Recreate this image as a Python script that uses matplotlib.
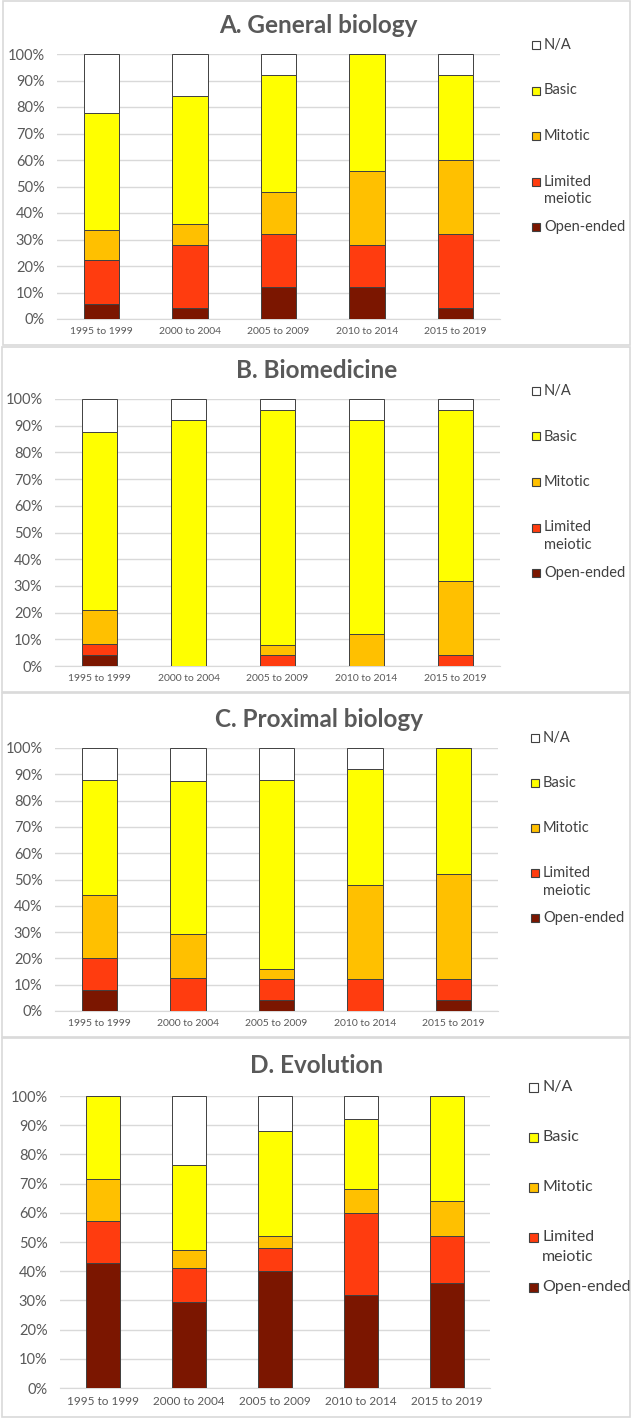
import matplotlib
matplotlib.use("Agg")
import matplotlib.pyplot as plt
from matplotlib.patches import Rectangle
from matplotlib.ticker import PercentFormatter

plt.rcParams["font.family"] = ["Lato", "DejaVu Sans"]

categories = ["1995 to 1999", "2000 to 2004", "2005 to 2009", "2010 to 2014", "2015 to 2019"]
series_names = ["Open-ended", "Limited\nmeiotic", "Mitotic", "Basic", "N/A"]
series_colors = ["#7b1600", "#ff3c0f", "#ffc000", "#ffff00", "#ffffff"]

# percent of papers, bottom segment first
gen_open = [5.6, 4, 12, 12, 4]
gen_limited = [16.7, 24, 20, 16, 28]
gen_mitotic = [11.1, 8, 16, 28, 28]
gen_basic = [44.4, 48, 44, 44, 32]
gen_na = [22.2, 16, 8, 0, 8]

bio_open = [4.2, 0, 0, 0, 0]
bio_limited = [4.2, 0, 4, 0, 4]
bio_mitotic = [12.5, 0, 4, 12, 28]
bio_basic = [66.6, 92, 88, 80, 64]
bio_na = [12.5, 8, 4, 8, 4]

prox_open = [8, 0, 4, 0, 4]
prox_limited = [12, 12.5, 8, 12, 8]
prox_mitotic = [24, 16.7, 4, 36, 40]
prox_basic = [44, 58.3, 72, 44, 48]
prox_na = [12, 12.5, 12, 8, 0]

evo_open = [42.9, 29.4, 40, 32, 36]
evo_limited = [14.3, 11.8, 8, 28, 16]
evo_mitotic = [14.3, 5.9, 4, 8, 12]
evo_basic = [28.5, 29.4, 36, 24, 36]
evo_na = [0, 23.5, 12, 8, 0]

W, H = 633, 1419
fig = plt.figure(figsize=(W / 100, H / 100), dpi=100)

# layout in pixels: frame, plot area, title, legend
panels = [
    dict(title="A. General biology", data=[gen_open, gen_limited, gen_mitotic, gen_basic, gen_na],
         frame=(3, 1, 630, 345), plot=(57, 54, 500, 319), title_xy=(318, 33),
         leg_x=532, leg_top=45, leg_step=45.5, leg_fs=10.5, sq=8, xfs=7.5),
    dict(title="B. Biomedicine", data=[bio_open, bio_limited, bio_mitotic, bio_basic, bio_na],
         frame=(2, 347, 630, 692), plot=(55, 399, 500, 666), title_xy=(317, 378),
         leg_x=532, leg_top=391, leg_step=45.5, leg_fs=10.5, sq=8, xfs=7.5),
    dict(title="C. Proximal biology", data=[prox_open, prox_limited, prox_mitotic, prox_basic, prox_na],
         frame=(2, 693, 630, 1037), plot=(55, 748, 498, 1011), title_xy=(319, 727),
         leg_x=531, leg_top=738, leg_step=45, leg_fs=10.5, sq=8, xfs=7.5),
    dict(title="D. Evolution", data=[evo_open, evo_limited, evo_mitotic, evo_basic, evo_na],
         frame=(2, 1038, 630, 1417), plot=(60, 1096, 490, 1388), title_xy=(317, 1073),
         leg_x=529, leg_top=1087, leg_step=50, leg_fs=11.5, sq=9, xfs=8.5),
]

for p in panels:
    fx0, fy0, fx1, fy1 = p["frame"]
    fig.patches.append(Rectangle((fx0 / W, 1 - fy1 / H), (fx1 - fx0) / W, (fy1 - fy0) / H,
                                 transform=fig.transFigure, fill=False,
                                 edgecolor="#d9d9d9", linewidth=1.2))

    x0, y0, x1, y1 = p["plot"]
    ax = fig.add_axes([x0 / W, 1 - y1 / H, (x1 - x0) / W, (y1 - y0) / H])
    xs = range(len(categories))
    bottom = [0] * len(categories)
    for name, vals, col in zip(series_names, p["data"], series_colors):
        ax.bar(xs, vals, width=0.4, bottom=bottom, color=col, edgecolor="#404040",
               linewidth=0.7, zorder=3, label=name)
        bottom = [b + v for b, v in zip(bottom, vals)]

    ax.set_xlim(-0.5, len(categories) - 0.5)
    ax.set_ylim(0, 100)
    ax.set_yticks(range(0, 101, 10))
    ax.yaxis.set_major_formatter(PercentFormatter(decimals=0))
    ax.set_xticks(list(xs))
    ax.set_xticklabels(categories)
    ax.grid(axis="y", color="#d9d9d9", linewidth=1, zorder=0)
    ax.set_axisbelow(True)
    for s in ["top", "right", "left"]:
        ax.spines[s].set_visible(False)
    ax.spines["bottom"].set_color("#d9d9d9")
    ax.tick_params(axis="both", length=0, colors="#595959")
    ax.tick_params(axis="y", labelsize=10.5, pad=9)
    ax.tick_params(axis="x", labelsize=p["xfs"], pad=6)

    tx, ty = p["title_xy"]
    fig.text(tx / W, 1 - ty / H, p["title"], ha="center", va="baseline",
             fontsize=17.5, fontweight="bold", color="#595959")

    # legend, top entry is N/A
    lx = p["leg_x"]
    sq = p["sq"]
    for i, (name, col) in enumerate(zip(series_names[::-1], series_colors[::-1])):
        ly = p["leg_top"] + i * p["leg_step"]
        fig.patches.append(Rectangle((lx / W, 1 - (ly + sq / 2) / H), sq / W, sq / H,
                                     transform=fig.transFigure, facecolor=col,
                                     edgecolor="#404040", linewidth=0.8))
        lines = name.split("\n")
        for j, line in enumerate(lines):
            fig.text((lx + sq + 4) / W, 1 - (ly + j * p["leg_fs"] * 1.7) / H, line,
                     ha="left", va="center", fontsize=p["leg_fs"], color="#404040")

fig.savefig("out.png", dpi=100, facecolor="white")
